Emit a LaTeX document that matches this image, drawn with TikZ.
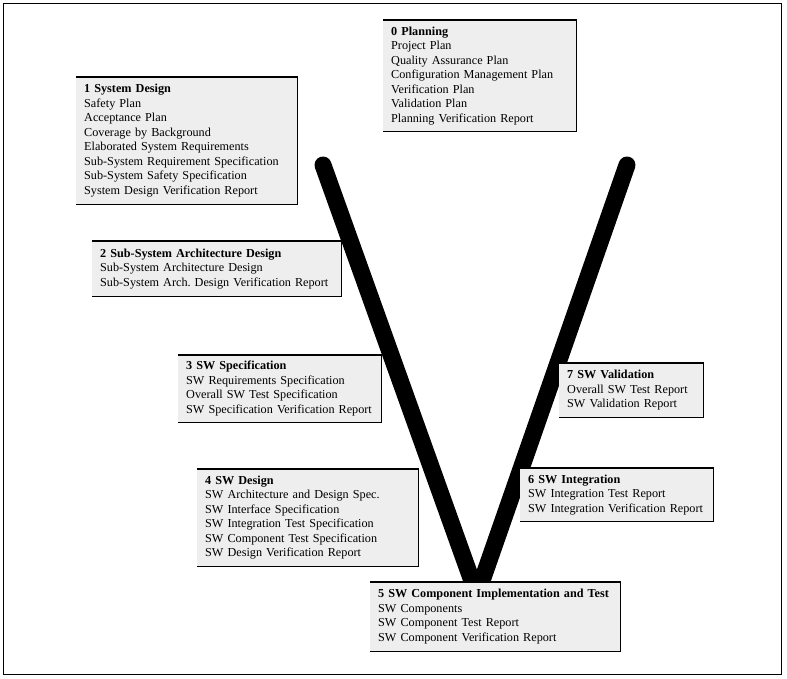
\documentclass[tikz,border=0pt]{standalone}
\usepackage{fontspec}
\setmainfont{Liberation Serif}
\frenchspacing
\definecolor{boxfill}{HTML}{EEEEEE}
\newcommand{\lines}[1]{\begin{tabular}{@{}l@{}}#1\end{tabular}}
\tikzset{
  phase/.style={anchor=north west, fill=boxfill, inner xsep=8pt, inner ysep=0pt,
    align=left, font=\fontsize{12.2}{14.5}\selectfont},
  rim/.style={line width=1.1pt},
  vline/.style={line width=17pt, line cap=round, line join=round}
}

\begin{document}
\begin{tikzpicture}[x=1pt,y=-1pt]
   \useasboundingbox (0,0) rectangle (787,679);
   \draw[line width=1pt] (3,4) rectangle (781,674);
   % the V
   \draw[vline] (323,165) -- (477,595) -- (627,165);
   % phases down the left arm
   \node[phase, text width=177pt, minimum height=111pt] (p0) at (383,20)
     {\lines{\textbf{0 Planning}\\Project Plan\\Quality Assurance Plan\\Configuration Management Plan\\Verification Plan\\Validation Plan\\Planning Verification Report}};
   \node[phase, text width=205pt, minimum height=127pt] (p1) at (76,77)
     {\lines{\textbf{1 System Design}\\Safety Plan\\Acceptance Plan\\Coverage by Background\\Elaborated System Requirements\\Sub-System Requirement Specification\\Sub-System Safety Specification\\System Design Verification Report}};
   \node[phase, text width=233pt, minimum height=55pt] (p2) at (92,241)
     {\lines{\textbf{2 Sub-System Architecture Design}\\Sub-System Architecture Design\\Sub-System Arch.\ Design Verification Report}};
   \node[phase, text width=187pt, minimum height=67pt] (p3) at (178,355)
     {\lines{\textbf{3 SW Specification}\\SW Requirements Specification\\Overall SW Test Specification\\SW Specification Verification Report}};
   \node[phase, text width=205pt, minimum height=97pt] (p4) at (197,469)
     {\lines{\textbf{4 SW Design}\\SW Architecture and Design Spec.\\SW Interface Specification\\SW Integration Test Specification\\SW Component Test Specification\\SW Design Verification Report}};
   % bottom and right arm
   \node[phase, text width=234pt, minimum height=69pt] (p5) at (370,582)
     {\lines{\textbf{5 SW Component Implementation and Test}\\SW Components\\SW Component Test Report\\SW Component Verification Report}};
   \node[phase, text width=177pt, minimum height=53pt] (p6) at (520,468)
     {\lines{\textbf{6 SW Integration}\\SW Integration Test Report\\SW Integration Verification Report}};
   \node[phase, text width=128pt, minimum height=54pt] (p7) at (559,363)
     {\lines{\textbf{7 SW Validation}\\Overall SW Test Report\\SW Validation Report}};
   \foreach \n in {p0,p1,p2,p3,p4,p5,p6,p7} {
     \draw[rim] (\n.north west) -- (\n.north east) -- (\n.south east) -- (\n.south west);
   }
\end{tikzpicture}
\end{document}
